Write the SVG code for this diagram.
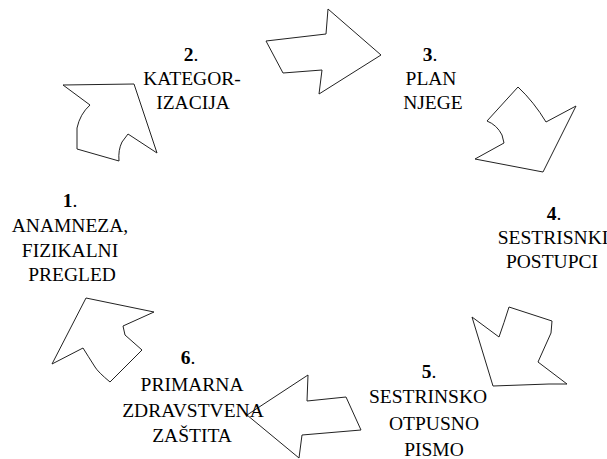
<svg xmlns="http://www.w3.org/2000/svg" width="607" height="459" viewBox="0 0 607 459">
<style>
text{font-family:'Liberation Serif','Times New Roman',Times,serif;font-size:19.5px;fill:#000;text-anchor:middle}
.b{font-weight:bold}
.arrow{fill:#fff;stroke:#222;stroke-width:1;stroke-linejoin:miter}
</style>
<rect width="607" height="459" fill="#fff"/>
<g id="connectors">
<path id="a12" class="arrow" d="M63,85 L134,84 L157,153 L128,134 L122,142 Q118,150 119,161 L77,149 L77,128 Q80,114 90,105 Z"/>
<path id="a23" class="arrow" d="M328,9 L381,55 L319,94 L322,70 L283,73 L266,41 L326,34 Z"/>
<path id="a34" class="arrow" d="M518,87 Q534,102 546,122 L576,106 L543,172 L475,159 L504,143 L502,135 Q497,125 487,121 Z"/>
<path id="a45" class="arrow" d="M509,307 L552,321 L551,333 L538,362 L567,384 L549,384 L493,386 L472,317 L499,337 Q504,323 509,307 Z"/>
<path id="a56" class="arrow" d="M247,415 L308,375 L307,401 L346,397 L361,430 L302,435 L299,458 Z"/>
<path id="a61" class="arrow" d="M86,298 L154,312 L123,326 L125,335 L142,350 L110,382 Q98,372 95,367 Q88,356 83,348 L52,364 Z"/>
</g>
<g id="n1"><text x="70" y="207"><tspan class="b">1</tspan>.</text><text x="70" y="232">ANAMNEZA,</text><text x="70" y="257">FIZIKALNI</text><text x="72" y="281">PREGLED</text></g>
<g id="n2"><text x="191" y="61"><tspan class="b">2</tspan>.</text><text x="192" y="85">KATEGOR-</text><text x="193" y="109">IZACIJA</text></g>
<g id="n3"><text x="430" y="61"><tspan class="b">3</tspan>.</text><text x="431" y="85">PLAN</text><text x="433" y="109">NJEGE</text></g>
<g id="n4"><text x="554" y="220"><tspan class="b">4</tspan>.</text><text x="553" y="244">SESTRISNKI</text><text x="552" y="268">POSTUPCI</text></g>
<g id="n5"><text x="429" y="378"><tspan class="b">5</tspan>.</text><text x="428" y="403">SESTRINSKO</text><text x="434" y="430">OTPUSNO</text><text x="434" y="456">PISMO</text></g>
<g id="n6"><text x="188" y="364"><tspan class="b">6</tspan>.</text><text x="192" y="391">PRIMARNA</text><text x="193" y="417">ZDRAVSTVENA</text><text x="192" y="442">ZAŠTITA</text></g>
</svg>
